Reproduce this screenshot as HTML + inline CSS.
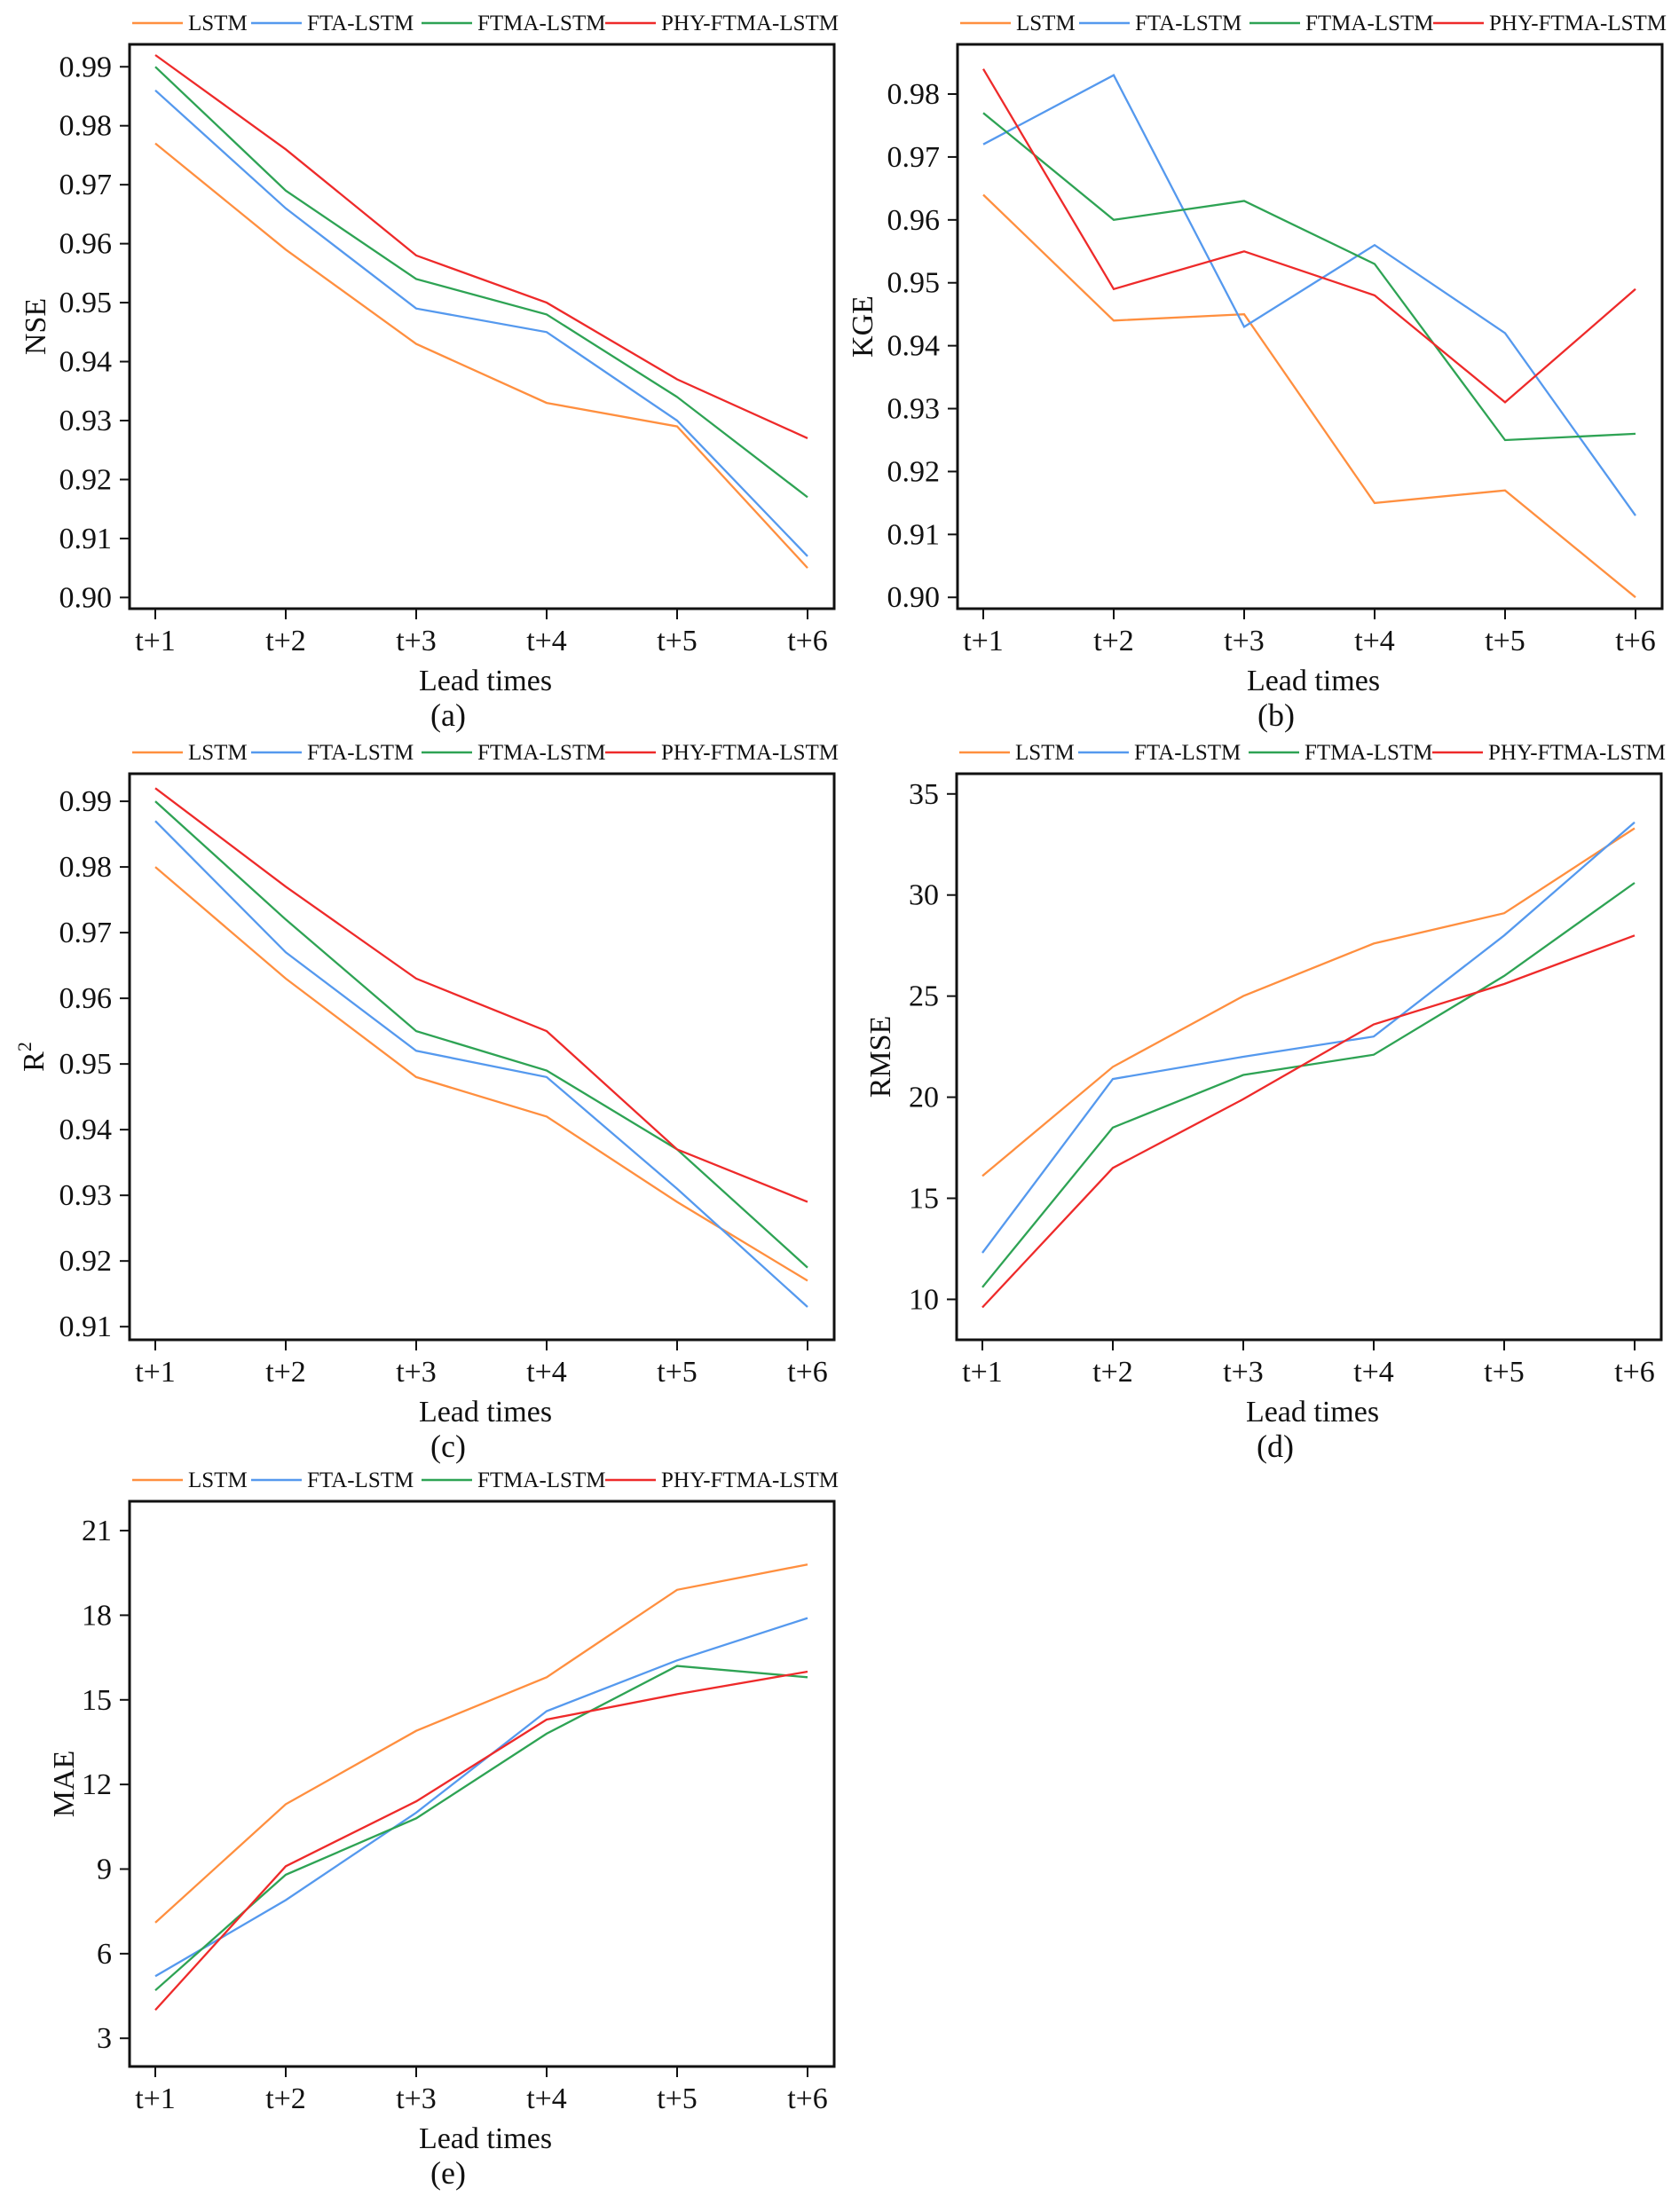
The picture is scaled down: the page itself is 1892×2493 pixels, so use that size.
<!DOCTYPE html>
<html><head><meta charset="utf-8"><style>
html,body{margin:0;padding:0;background:#fff;}
svg{display:block;font-family:"Liberation Serif",serif;}
svg text{font-family:"Liberation Serif",serif;}
</style></head><body>
<svg id="fig" width="1892" height="2493" viewBox="0 0 1892 2493" xmlns="http://www.w3.org/2000/svg"></svg>
<script>
const categories = ["t+1","t+2","t+3","t+4","t+5","t+6"];
const seriesNames = ["LSTM","FTA-LSTM","FTMA-LSTM","PHY-FTMA-LSTM"];
const colors = ["#FF8F3F","#5599EE","#2EA354","#EE2A2A"];

const nseLSTM = [0.977,0.959,0.943,0.933,0.929,0.905];
const nseFTA  = [0.986,0.966,0.949,0.945,0.930,0.907];
const nseFTMA = [0.990,0.969,0.954,0.948,0.934,0.917];
const nsePHY  = [0.992,0.976,0.958,0.950,0.937,0.927];
const nseTicks = ["0.90","0.91","0.92","0.93","0.94","0.95","0.96","0.97","0.98","0.99"];

const kgeLSTM = [0.964,0.944,0.945,0.915,0.917,0.900];
const kgeFTA  = [0.972,0.983,0.943,0.956,0.942,0.913];
const kgeFTMA = [0.977,0.960,0.963,0.953,0.925,0.926];
const kgePHY  = [0.984,0.949,0.955,0.948,0.931,0.949];
const kgeTicks = ["0.90","0.91","0.92","0.93","0.94","0.95","0.96","0.97","0.98"];

const r2LSTM = [0.980,0.963,0.948,0.942,0.929,0.917];
const r2FTA  = [0.987,0.967,0.952,0.948,0.931,0.913];
const r2FTMA = [0.990,0.972,0.955,0.949,0.937,0.919];
const r2PHY  = [0.992,0.977,0.963,0.955,0.937,0.929];
const r2Ticks = ["0.91","0.92","0.93","0.94","0.95","0.96","0.97","0.98","0.99"];

const rmseLSTM = [16.1,21.5,25.0,27.6,29.1,33.3];
const rmseFTA  = [12.3,20.9,22.0,23.0,28.0,33.6];
const rmseFTMA = [10.6,18.5,21.1,22.1,26.0,30.6];
const rmsePHY  = [9.6,16.5,19.9,23.6,25.6,28.0];
const rmseTicks = ["10","15","20","25","30","35"];

const maeLSTM = [7.1,11.3,13.9,15.8,18.9,19.8];
const maeFTA  = [5.2,7.9,11.0,14.6,16.4,17.9];
const maeFTMA = [4.7,8.8,10.8,13.8,16.2,15.8];
const maePHY  = [4.0,9.1,11.4,14.3,15.2,16.0];
const maeTicks = ["3","6","9","12","15","18","21"];

const NS = "http://www.w3.org/2000/svg";
const svg = document.getElementById("fig");
const FONT = '"Liberation Serif", serif';
function mk(tag, attrs, parent){
  const e = document.createElementNS(NS, tag);
  for (const k in attrs) e.setAttribute(k, attrs[k]);
  if (tag === "text") e.setAttribute("font-family", FONT);
  (parent||svg).appendChild(e);
  return e;
}

const panels = [
  {id:"a", ylabel:"NSE", sup:false, L:146, R:940, T:50, B:686, ymin:0.8981, ymax:0.9938, ticks:nseTicks, data:[nseLSTM,nseFTA,nseFTMA,nsePHY], ylx:-106},
  {id:"b", ylabel:"KGE", sup:false, L:1079, R:1873, T:50, B:686, ymin:0.8982, ymax:0.9879, ticks:kgeTicks, data:[kgeLSTM,kgeFTA,kgeFTMA,kgePHY], ylx:-107},
  {id:"c", ylabel:"R", sup:true, L:146, R:940, T:872, B:1510, ymin:0.908, ymax:0.9942, ticks:r2Ticks, data:[r2LSTM,r2FTA,r2FTMA,r2PHY], ylx:-108},
  {id:"d", ylabel:"RMSE", sup:false, L:1078, R:1872, T:872, B:1510, ymin:8, ymax:36, ticks:rmseTicks, data:[rmseLSTM,rmseFTA,rmseFTMA,rmsePHY], ylx:-86},
  {id:"e", ylabel:"MAE", sup:false, L:146, R:940, T:1692, B:2329, ymin:2, ymax:22.04, ticks:maeTicks, data:[maeLSTM,maeFTA,maeFTMA,maePHY], ylx:-74}
];
const legOff = [3,137,329,536];

panels.forEach(p=>{
  const g = mk("g",{});
  
  
  const x0 = p.L+29, x1 = p.R-30;
  const xs = i => x0 + (x1-x0)*i/(categories.length-1);
  const ys = v => p.B - (v-p.ymin)/(p.ymax-p.ymin)*(p.B-p.T);

  seriesNames.forEach((n,k)=>{
    const lx = p.L + legOff[k];
    const ly = p.T - 24;
    const lg = mk("g",{},g);
    
    
    mk("line",{x1:lx,y1:ly,x2:lx+57,y2:ly,stroke:colors[k],"stroke-width":2.5},lg);
    const t = mk("text",{x:lx+63,y:ly+8,"font-size":25,fill:"#111"},lg);
    t.textContent = n;
  });

  p.ticks.forEach(s=>{
    const v = parseFloat(s), y = ys(v);
    const tl = mk("line",{x1:p.L-11,y1:y,x2:p.L,y2:y,stroke:"#111","stroke-width":2},g);
    
    
    const t = mk("text",{x:p.L-20,y:y+11,"font-size":34,"text-anchor":"end",fill:"#111"},g);
    
    
    t.textContent = s;
  });
  categories.forEach((c,i)=>{
    const x = xs(i);
    const tl = mk("line",{x1:x,y1:p.B,x2:x,y2:p.B+12,stroke:"#111","stroke-width":2},g);
    
    
    const t = mk("text",{x:x,y:p.B+47,"font-size":34,"text-anchor":"middle",fill:"#111"},g);
    
    
    t.textContent = c;
  });

  p.data.forEach((arr,k)=>{
    const pts = arr.map((v,i)=>xs(i).toFixed(1)+","+ys(v).toFixed(1)).join(" ");
    const pl = mk("polyline",{points:pts,fill:"none",stroke:colors[k],"stroke-width":2.3,"stroke-linejoin":"miter"},g);
    
    
  });

  const fr = mk("rect",{x:p.L,y:p.T,width:p.R-p.L,height:p.B-p.T,fill:"none",stroke:"#111","stroke-width":3},g);
  
  

  const cx = (p.L+p.R)/2;
  const xt = mk("text",{x:cx+4,y:p.B+92,"font-size":34,"text-anchor":"middle",fill:"#111"},g);
  
  
  xt.textContent = "Lead times";
  const pl = mk("text",{x:cx-38,y:p.B+132,"font-size":36,"text-anchor":"middle",fill:"#111"},g);
  
  
  pl.textContent = "("+p.id+")";
  const yx = p.L+p.ylx, yy = (p.T+p.B)/2;
  const yt = mk("text",{x:0,y:0,"font-size":34,"text-anchor":"middle",fill:"#111",transform:"translate("+(yx+11)+","+yy+") rotate(-90)"},g);
  
  
  yt.textContent = p.ylabel;
  if (p.sup){
    const sp = mk("tspan",{"font-size":22,dy:-14},yt);
    sp.textContent = "2";
  }
});
</script>
</body></html>
